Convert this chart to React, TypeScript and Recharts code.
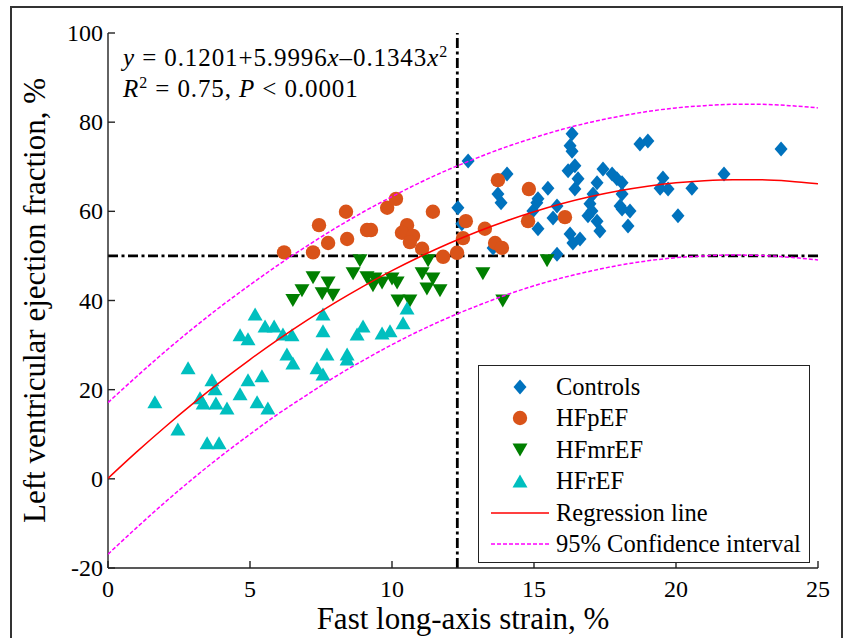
import { ScatterChart, Scatter, XAxis, YAxis, ReferenceLine } from "recharts";

// Scatter groups (strain %, LVEF %)
const controlsX = [12.32, 12.46, 12.68, 13.56, 13.73, 13.84, 14.05, 14.96, 15.1, 15.14, 15.14, 15.49, 15.67, 15.81, 15.81, 16.34, 16.27, 16.34, 16.44, 16.2, 16.55, 16.44, 16.27, 16.37, 16.62, 17.22, 17.08, 16.97, 17.04, 16.9, 17.22, 17.32, 17.43, 17.75, 17.92, 18.1, 18.1, 18.03, 18.1, 18.38, 18.31, 18.73, 19.01, 19.54, 19.44, 19.72, 20.56, 20.07, 21.69, 23.7];
const controlsY = [60.8, 57.2, 71.3, 51.8, 63.9, 61.9, 68.4, 60.1, 61.9, 62.8, 56.1, 65.2, 58.5, 61.2, 50.4, 77.4, 74.7, 73.5, 70.2, 69.1, 67.3, 65.0, 54.9, 52.9, 53.8, 66.4, 63.9, 61.7, 60.1, 59.0, 57.8, 55.6, 69.5, 68.4, 67.3, 66.4, 63.9, 61.2, 60.5, 60.1, 56.7, 75.1, 75.8, 67.5, 65.2, 65.0, 65.2, 59.0, 68.4, 74.0];

const hfpefX = [6.2, 7.22, 7.43, 7.75, 8.38, 8.42, 9.12, 9.26, 9.83, 10.14, 10.53, 10.35, 10.74, 10.63, 11.06, 11.44, 11.8, 12.29, 12.5, 12.6, 13.27, 13.63, 13.87, 13.73, 14.82, 14.79, 16.09];
const hfpefY = [50.8, 50.8, 56.9, 52.9, 59.9, 53.8, 55.8, 55.8, 60.8, 62.8, 56.9, 55.2, 54.5, 53.1, 51.6, 59.9, 49.8, 50.7, 54.0, 57.8, 56.1, 52.9, 51.8, 67.0, 65.0, 57.8, 58.7];

const hfmrefX = [6.51, 6.83, 7.22, 7.54, 7.75, 7.92, 8.63, 8.87, 9.12, 9.33, 9.4, 9.65, 10.0, 10.18, 10.21, 10.63, 11.06, 11.27, 11.23, 11.44, 11.69, 13.2, 13.9, 15.46];
const hfmrefY = [40.0, 42.2, 45.1, 41.5, 43.9, 41.2, 46.0, 48.9, 45.1, 43.3, 44.8, 43.9, 44.8, 43.9, 39.9, 39.9, 46.0, 48.9, 42.6, 44.8, 42.2, 46.0, 39.9, 48.9];

const hfrefX = [1.65, 2.46, 2.82, 3.24, 3.35, 3.49, 3.66, 3.77, 3.8, 3.91, 4.19, 4.65, 4.65, 4.93, 4.93, 5.18, 5.25, 5.42, 5.53, 5.63, 5.85, 6.16, 6.3, 6.48, 6.51, 7.36, 7.57, 7.57, 7.57, 7.71, 8.42, 8.42, 8.77, 8.98, 9.65, 9.93, 10.39, 10.53];
const hfrefY = [17.3, 11.2, 24.9, 18.2, 17.0, 8.1, 22.2, 20.2, 17.0, 8.1, 15.9, 19.1, 32.3, 31.4, 22.2, 37.0, 17.3, 23.1, 34.3, 15.9, 34.3, 32.5, 28.0, 32.3, 26.0, 24.9, 23.5, 37.0, 33.2, 28.0, 28.0, 26.9, 32.5, 34.3, 32.7, 33.2, 35.0, 38.3];

// Regression line and 95% band, sampled at whole strain values
const curveX = [0, 1, 2, 3, 4, 5, 6, 7, 8, 9, 10, 11, 12, 13, 14, 15, 16, 17, 18, 19, 20, 21, 22, 23, 24, 25];
const regressionY = [0.12, 5.99, 11.58, 16.91, 21.97, 26.76, 31.28, 35.54, 39.52, 43.24, 46.69, 49.87, 52.78, 55.42, 57.79, 59.9, 61.74, 63.31, 64.61, 65.63, 66.39, 66.88, 67.11, 67.07, 66.75, 66.17];
const upperY = [17.1, 22.9, 28.5, 33.8, 38.8, 43.5, 48.0, 52.2, 56.2, 59.9, 63.3, 66.5, 69.4, 72.0, 74.4, 76.5, 78.4, 80.0, 81.3, 82.4, 83.2, 83.7, 84.0, 84.0, 83.7, 83.2];
const lowerY = [-16.9, -11.0, -5.3, 0.1, 5.2, 10.0, 14.6, 18.8, 22.9, 26.6, 30.1, 33.3, 36.2, 38.8, 41.2, 43.3, 45.1, 46.6, 47.9, 48.9, 49.6, 50.0, 50.2, 50.1, 49.7, 49.1];

const xTicks = [0, 5, 10, 15, 20, 25];
const yTicks = [-20, 0, 20, 40, 60, 80, 100];
const strainCutoff = 12.3;
const efCutoff = 50;

const COLORS = {
  controls: "#0072BD",
  hfpef: "#D95319",
  hfmref: "#007F00",
  hfref: "#00BFBF",
  regression: "#FF0000",
  ci: "#FF00FF",
};

const FONT = '"Liberation Serif", "Times New Roman", serif';
const tickText = { fontSize: 24, fontFamily: FONT, fill: "#000" };

const toPoints = (xs: number[], ys: number[]) =>
  xs.map((x, i) => ({ x, y: ys[i] }));

type MarkProps = { cx: number; cy: number };

const DiamondMark = ({ cx, cy }: MarkProps) => (
  <polygon
    points={`${cx},${cy - 7.5} ${cx + 6.5},${cy} ${cx},${cy + 7.5} ${cx - 6.5},${cy}`}
    fill={COLORS.controls}
  />
);
const CircleMark = ({ cx, cy }: MarkProps) => (
  <circle cx={cx} cy={cy} r={7.2} fill={COLORS.hfpef} />
);
const DownMark = ({ cx, cy }: MarkProps) => (
  <polygon
    points={`${cx - 7.5},${cy - 6.5} ${cx + 7.5},${cy - 6.5} ${cx},${cy + 6.5}`}
    fill={COLORS.hfmref}
  />
);
const UpMark = ({ cx, cy }: MarkProps) => (
  <polygon
    points={`${cx - 7.5},${cy + 6.5} ${cx + 7.5},${cy + 6.5} ${cx},${cy - 6.5}`}
    fill={COLORS.hfref}
  />
);
const NoMark = () => <g />;

// tick labels drawn by hand so the serif face and size stick
function XTick(p: any) {
  return (
    <text x={p.x} y={p.y} dy="0.71em" textAnchor="middle" style={tickText}>
      {p.payload.value}
    </text>
  );
}
function YTick(p: any) {
  return (
    <text x={p.x} y={p.y} dy="0.34em" textAnchor="end" style={tickText}>
      {p.payload.value}
    </text>
  );
}

const legendItems = [
  { name: "Controls", kind: "diamond" },
  { name: "HFpEF", kind: "circle" },
  { name: "HFmrEF", kind: "down" },
  { name: "HFrEF", kind: "up" },
  { name: "Regression line", kind: "line" },
  { name: "95% Confidence interval", kind: "dash" },
];

function LegendIcon({ kind }: { kind: string }) {
  return (
    <svg width={62} height={20} style={{ display: "block" }}>
      {kind === "diamond" && <DiamondMark cx={29} cy={10} />}
      {kind === "circle" && <CircleMark cx={29} cy={10} />}
      {kind === "down" && <DownMark cx={29} cy={10} />}
      {kind === "up" && <UpMark cx={29} cy={10} />}
      {kind === "line" && (
        <line x1={0} x2={58} y1={10} y2={10} stroke={COLORS.regression} strokeWidth={1.5} />
      )}
      {kind === "dash" && (
        <line x1={0} x2={58} y1={10} y2={10} stroke={COLORS.ci} strokeWidth={1.5} strokeDasharray="4 2" />
      )}
    </svg>
  );
}

export default function App() {
  const axisLine = { stroke: "#222", strokeWidth: 1.4 };

  return (
    <div
      style={{
        position: "absolute",
        left: 0,
        top: 0,
        width: 845,
        height: 638,
        overflow: "hidden",
        background: "#fff",
        fontFamily: FONT,
      }}
    >
      <div
        style={{
          position: "absolute",
          left: 10,
          top: 6,
          width: 829,
          height: 660,
          border: "2px solid #333",
        }}
      />
      <ScatterChart
        width={845}
        height={638}
        margin={{ top: 33, right: 27, bottom: 0, left: 0 }}
        style={{ position: "absolute", left: 0, top: 0, fontFamily: FONT }}
      >
        <XAxis
          xAxisId={0}
          type="number"
          dataKey="x"
          domain={[0, 25]}
          ticks={xTicks}
          interval={0}
          allowDataOverflow
          height={70}
          tick={<XTick />}
          tickSize={-7}
          tickMargin={19}
          axisLine={axisLine}
          tickLine={axisLine}
          label={{
            value: "Fast long-axis strain, %",
            position: "insideBottom",
            offset: 9,
            style: { fontSize: 31, fill: "#000", fontFamily: FONT },
          }}
        />
        <XAxis
          xAxisId="top"
          orientation="top"
          type="number"
          dataKey="x"
          domain={[0, 25]}
          ticks={xTicks}
          interval={0}
          allowDataOverflow
          height={0}
          tick={false}
          tickSize={-7}
          axisLine={axisLine}
          tickLine={axisLine}
        />
        <YAxis
          yAxisId={0}
          type="number"
          dataKey="y"
          domain={[-20, 100]}
          ticks={yTicks}
          interval={0}
          allowDataOverflow
          width={108}
          tick={<YTick />}
          tickSize={-7}
          tickMargin={12}
          axisLine={axisLine}
          tickLine={axisLine}
          label={{
            value: "Left ventricular ejection fraction, %",
            angle: -90,
            position: "insideLeft",
            offset: 34,
            style: { fontSize: 31, fill: "#000", fontFamily: FONT, textAnchor: "middle" },
          }}
        />
        <YAxis
          yAxisId="right"
          orientation="right"
          type="number"
          dataKey="y"
          domain={[-20, 100]}
          ticks={yTicks}
          interval={0}
          allowDataOverflow
          width={0}
          tick={false}
          tickSize={-7}
          axisLine={axisLine}
          tickLine={axisLine}
        />

        <Scatter
          name="Controls"
          data={toPoints(controlsX, controlsY)}
          shape={(p: any) => <DiamondMark cx={p.cx} cy={p.cy} />}
          isAnimationActive={false}
        />
        <Scatter
          name="HFpEF"
          data={toPoints(hfpefX, hfpefY)}
          shape={(p: any) => <CircleMark cx={p.cx} cy={p.cy} />}
          isAnimationActive={false}
        />
        <Scatter
          name="HFmrEF"
          data={toPoints(hfmrefX, hfmrefY)}
          shape={(p: any) => <DownMark cx={p.cx} cy={p.cy} />}
          isAnimationActive={false}
        />
        <Scatter
          name="HFrEF"
          data={toPoints(hfrefX, hfrefY)}
          shape={(p: any) => <UpMark cx={p.cx} cy={p.cy} />}
          isAnimationActive={false}
        />

        <Scatter
          name="Regression line"
          data={toPoints(curveX, regressionY)}
          line={{ stroke: COLORS.regression, strokeWidth: 1.5 }}
          lineJointType="monotoneX"
          shape={NoMark}
          isAnimationActive={false}
        />
        <Scatter
          name="Upper 95%"
          data={toPoints(curveX, upperY)}
          line={{ stroke: COLORS.ci, strokeWidth: 1.5, strokeDasharray: "4 2" }}
          lineJointType="monotoneX"
          shape={NoMark}
          isAnimationActive={false}
        />
        <Scatter
          name="Lower 95%"
          data={toPoints(curveX, lowerY)}
          line={{ stroke: COLORS.ci, strokeWidth: 1.5, strokeDasharray: "4 2" }}
          lineJointType="monotoneX"
          shape={NoMark}
          isAnimationActive={false}
        />

        <ReferenceLine x={strainCutoff} stroke="#000" strokeWidth={2.8} strokeDasharray="10 3.5 3 3.5" />
        <ReferenceLine y={efCutoff} stroke="#000" strokeWidth={2.8} strokeDasharray="10 3.5 3 3.5" />
      </ScatterChart>

      {/* regression equation */}
      <div
        style={{
          position: "absolute",
          left: 123,
          top: 42,
          fontSize: 25,
          lineHeight: "31px",
          letterSpacing: 0.9,
          color: "#000",
          whiteSpace: "nowrap",
        }}
      >
        <div>
          <i>y</i> = 0.1201+5.9996<i>x</i>–0.1343<i>x</i>
          <sup style={{ fontSize: 16, lineHeight: 0 }}>2</sup>
        </div>
        <div>
          <i>R</i>
          <sup style={{ fontSize: 16, lineHeight: 0 }}>2</sup> = 0.75, <i>P</i> &lt; 0.0001
        </div>
      </div>

      {/* legend */}
      <div
        style={{
          position: "absolute",
          left: 478,
          top: 365,
          width: 330,
          height: 191,
          border: "1.5px solid #222",
          background: "#fff",
          paddingTop: 5,
          boxSizing: "content-box",
        }}
      >
        {legendItems.map((item) => (
          <div
            key={item.name}
            style={{ display: "flex", alignItems: "center", height: 31.5 }}
          >
            <div style={{ width: 12 }} />
            <LegendIcon kind={item.kind} />
            <span style={{ fontSize: 24.5, color: "#000", marginLeft: 3, whiteSpace: "nowrap" }}>
              {item.name}
            </span>
          </div>
        ))}
      </div>
    </div>
  );
}
